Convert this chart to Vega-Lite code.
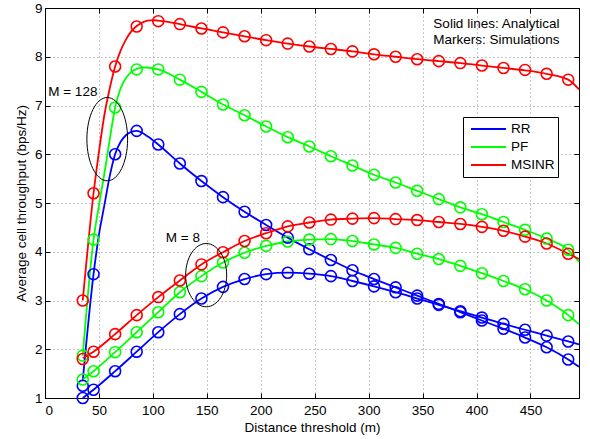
{
  "$schema": "https://vega.github.io/schema/vega-lite/v6.json",
  "width": 534,
  "height": 390,
  "autosize": {"type": "none"},
  "padding": {"left": 45, "top": 8, "right": 11, "bottom": 41},
  "background": "white",
  "config": {
    "font": "Liberation Sans",
    "view": {"stroke": "black", "strokeWidth": 1},
    "axis": {
      "labelFont": "Liberation Sans", "titleFont": "Liberation Sans",
      "labelFontSize": 13.5, "titleFontSize": 13.5, "titleFontWeight": "normal",
      "labelColor": "black", "titleColor": "black",
      "domainColor": "black", "tickColor": "black", "tickSize": -5,
      "gridColor": "#8a8a8a", "gridDash": [1, 3], "gridOpacity": 1, "gridWidth": 1
    }
  },
  "datasets": {
    "sim": [
      {"M":"128","scheme":"RR","distance":35,"throughput":1.25},{"M":"128","scheme":"RR","distance":45,"throughput":3.54},{"M":"128","scheme":"RR","distance":65,"throughput":6.0},{"M":"128","scheme":"RR","distance":85,"throughput":6.48},{"M":"128","scheme":"RR","distance":105,"throughput":6.2},{"M":"128","scheme":"RR","distance":125,"throughput":5.81},{"M":"128","scheme":"RR","distance":145,"throughput":5.45},{"M":"128","scheme":"RR","distance":165,"throughput":5.12},{"M":"128","scheme":"RR","distance":185,"throughput":4.82},{"M":"128","scheme":"RR","distance":205,"throughput":4.55},{"M":"128","scheme":"RR","distance":225,"throughput":4.29},{"M":"128","scheme":"RR","distance":245,"throughput":4.05},{"M":"128","scheme":"RR","distance":265,"throughput":3.83},{"M":"128","scheme":"RR","distance":285,"throughput":3.62},{"M":"128","scheme":"RR","distance":305,"throughput":3.44},{"M":"128","scheme":"RR","distance":325,"throughput":3.27},{"M":"128","scheme":"RR","distance":345,"throughput":3.1},{"M":"128","scheme":"RR","distance":365,"throughput":2.93},{"M":"128","scheme":"RR","distance":385,"throughput":2.76},{"M":"128","scheme":"RR","distance":405,"throughput":2.59},{"M":"128","scheme":"RR","distance":425,"throughput":2.42},{"M":"128","scheme":"RR","distance":445,"throughput":2.24},{"M":"128","scheme":"RR","distance":465,"throughput":2.04},{"M":"128","scheme":"RR","distance":485,"throughput":1.79},
      {"M":"128","scheme":"PF","distance":35,"throughput":1.87},{"M":"128","scheme":"PF","distance":45,"throughput":4.25},{"M":"128","scheme":"PF","distance":65,"throughput":6.96},{"M":"128","scheme":"PF","distance":85,"throughput":7.74},{"M":"128","scheme":"PF","distance":105,"throughput":7.74},{"M":"128","scheme":"PF","distance":125,"throughput":7.53},{"M":"128","scheme":"PF","distance":145,"throughput":7.28},{"M":"128","scheme":"PF","distance":165,"throughput":7.02},{"M":"128","scheme":"PF","distance":185,"throughput":6.8},{"M":"128","scheme":"PF","distance":205,"throughput":6.57},{"M":"128","scheme":"PF","distance":225,"throughput":6.35},{"M":"128","scheme":"PF","distance":245,"throughput":6.16},{"M":"128","scheme":"PF","distance":265,"throughput":5.96},{"M":"128","scheme":"PF","distance":285,"throughput":5.77},{"M":"128","scheme":"PF","distance":305,"throughput":5.58},{"M":"128","scheme":"PF","distance":325,"throughput":5.42},{"M":"128","scheme":"PF","distance":345,"throughput":5.25},{"M":"128","scheme":"PF","distance":365,"throughput":5.08},{"M":"128","scheme":"PF","distance":385,"throughput":4.91},{"M":"128","scheme":"PF","distance":405,"throughput":4.77},{"M":"128","scheme":"PF","distance":425,"throughput":4.61},{"M":"128","scheme":"PF","distance":445,"throughput":4.45},{"M":"128","scheme":"PF","distance":465,"throughput":4.27},{"M":"128","scheme":"PF","distance":485,"throughput":4.04},
      {"M":"128","scheme":"MSINR","distance":35,"throughput":3.0},{"M":"128","scheme":"MSINR","distance":45,"throughput":5.2},{"M":"128","scheme":"MSINR","distance":65,"throughput":7.8},{"M":"128","scheme":"MSINR","distance":85,"throughput":8.62},{"M":"128","scheme":"MSINR","distance":105,"throughput":8.73},{"M":"128","scheme":"MSINR","distance":125,"throughput":8.67},{"M":"128","scheme":"MSINR","distance":145,"throughput":8.58},{"M":"128","scheme":"MSINR","distance":165,"throughput":8.5},{"M":"128","scheme":"MSINR","distance":185,"throughput":8.42},{"M":"128","scheme":"MSINR","distance":205,"throughput":8.34},{"M":"128","scheme":"MSINR","distance":225,"throughput":8.27},{"M":"128","scheme":"MSINR","distance":245,"throughput":8.21},{"M":"128","scheme":"MSINR","distance":265,"throughput":8.16},{"M":"128","scheme":"MSINR","distance":285,"throughput":8.11},{"M":"128","scheme":"MSINR","distance":305,"throughput":8.05},{"M":"128","scheme":"MSINR","distance":325,"throughput":8.0},{"M":"128","scheme":"MSINR","distance":345,"throughput":7.95},{"M":"128","scheme":"MSINR","distance":365,"throughput":7.91},{"M":"128","scheme":"MSINR","distance":385,"throughput":7.87},{"M":"128","scheme":"MSINR","distance":405,"throughput":7.82},{"M":"128","scheme":"MSINR","distance":425,"throughput":7.77},{"M":"128","scheme":"MSINR","distance":445,"throughput":7.73},{"M":"128","scheme":"MSINR","distance":465,"throughput":7.65},{"M":"128","scheme":"MSINR","distance":485,"throughput":7.53},
      {"M":"8","scheme":"RR","distance":35,"throughput":1.0},{"M":"8","scheme":"RR","distance":45,"throughput":1.17},{"M":"8","scheme":"RR","distance":65,"throughput":1.55},{"M":"8","scheme":"RR","distance":85,"throughput":1.95},{"M":"8","scheme":"RR","distance":105,"throughput":2.35},{"M":"8","scheme":"RR","distance":125,"throughput":2.72},{"M":"8","scheme":"RR","distance":145,"throughput":3.04},{"M":"8","scheme":"RR","distance":165,"throughput":3.28},{"M":"8","scheme":"RR","distance":185,"throughput":3.44},{"M":"8","scheme":"RR","distance":205,"throughput":3.54},{"M":"8","scheme":"RR","distance":225,"throughput":3.57},{"M":"8","scheme":"RR","distance":245,"throughput":3.55},{"M":"8","scheme":"RR","distance":265,"throughput":3.5},{"M":"8","scheme":"RR","distance":285,"throughput":3.4},{"M":"8","scheme":"RR","distance":305,"throughput":3.29},{"M":"8","scheme":"RR","distance":325,"throughput":3.17},{"M":"8","scheme":"RR","distance":345,"throughput":3.04},{"M":"8","scheme":"RR","distance":365,"throughput":2.91},{"M":"8","scheme":"RR","distance":385,"throughput":2.78},{"M":"8","scheme":"RR","distance":405,"throughput":2.65},{"M":"8","scheme":"RR","distance":425,"throughput":2.52},{"M":"8","scheme":"RR","distance":445,"throughput":2.4},{"M":"8","scheme":"RR","distance":465,"throughput":2.28},{"M":"8","scheme":"RR","distance":485,"throughput":2.16},
      {"M":"8","scheme":"PF","distance":35,"throughput":1.38},{"M":"8","scheme":"PF","distance":45,"throughput":1.55},{"M":"8","scheme":"PF","distance":65,"throughput":1.94},{"M":"8","scheme":"PF","distance":85,"throughput":2.35},{"M":"8","scheme":"PF","distance":105,"throughput":2.76},{"M":"8","scheme":"PF","distance":125,"throughput":3.17},{"M":"8","scheme":"PF","distance":145,"throughput":3.5},{"M":"8","scheme":"PF","distance":165,"throughput":3.78},{"M":"8","scheme":"PF","distance":185,"throughput":3.98},{"M":"8","scheme":"PF","distance":205,"throughput":4.12},{"M":"8","scheme":"PF","distance":225,"throughput":4.21},{"M":"8","scheme":"PF","distance":245,"throughput":4.25},{"M":"8","scheme":"PF","distance":265,"throughput":4.26},{"M":"8","scheme":"PF","distance":285,"throughput":4.22},{"M":"8","scheme":"PF","distance":305,"throughput":4.15},{"M":"8","scheme":"PF","distance":325,"throughput":4.08},{"M":"8","scheme":"PF","distance":345,"throughput":3.96},{"M":"8","scheme":"PF","distance":365,"throughput":3.85},{"M":"8","scheme":"PF","distance":385,"throughput":3.71},{"M":"8","scheme":"PF","distance":405,"throughput":3.56},{"M":"8","scheme":"PF","distance":425,"throughput":3.4},{"M":"8","scheme":"PF","distance":445,"throughput":3.23},{"M":"8","scheme":"PF","distance":465,"throughput":3.0},{"M":"8","scheme":"PF","distance":485,"throughput":2.7},
      {"M":"8","scheme":"MSINR","distance":35,"throughput":1.8},{"M":"8","scheme":"MSINR","distance":45,"throughput":1.95},{"M":"8","scheme":"MSINR","distance":65,"throughput":2.31},{"M":"8","scheme":"MSINR","distance":85,"throughput":2.7},{"M":"8","scheme":"MSINR","distance":105,"throughput":3.07},{"M":"8","scheme":"MSINR","distance":125,"throughput":3.41},{"M":"8","scheme":"MSINR","distance":145,"throughput":3.74},{"M":"8","scheme":"MSINR","distance":165,"throughput":3.99},{"M":"8","scheme":"MSINR","distance":185,"throughput":4.22},{"M":"8","scheme":"MSINR","distance":205,"throughput":4.38},{"M":"8","scheme":"MSINR","distance":225,"throughput":4.52},{"M":"8","scheme":"MSINR","distance":245,"throughput":4.6},{"M":"8","scheme":"MSINR","distance":265,"throughput":4.66},{"M":"8","scheme":"MSINR","distance":285,"throughput":4.68},{"M":"8","scheme":"MSINR","distance":305,"throughput":4.69},{"M":"8","scheme":"MSINR","distance":325,"throughput":4.67},{"M":"8","scheme":"MSINR","distance":345,"throughput":4.65},{"M":"8","scheme":"MSINR","distance":365,"throughput":4.61},{"M":"8","scheme":"MSINR","distance":385,"throughput":4.57},{"M":"8","scheme":"MSINR","distance":405,"throughput":4.51},{"M":"8","scheme":"MSINR","distance":425,"throughput":4.43},{"M":"8","scheme":"MSINR","distance":445,"throughput":4.31},{"M":"8","scheme":"MSINR","distance":465,"throughput":4.17},{"M":"8","scheme":"MSINR","distance":485,"throughput":3.96}
    ],
    "ana": [
      {"M":"128","scheme":"RR","distance":35,"throughput":1.36},{"M":"128","scheme":"RR","distance":45,"throughput":3.54},{"M":"128","scheme":"RR","distance":50,"throughput":4.35},{"M":"128","scheme":"RR","distance":55,"throughput":4.95},{"M":"128","scheme":"RR","distance":60,"throughput":5.55},{"M":"128","scheme":"RR","distance":65,"throughput":6.0},{"M":"128","scheme":"RR","distance":70,"throughput":6.25},{"M":"128","scheme":"RR","distance":75,"throughput":6.39},{"M":"128","scheme":"RR","distance":80,"throughput":6.46},{"M":"128","scheme":"RR","distance":85,"throughput":6.48},{"M":"128","scheme":"RR","distance":95,"throughput":6.37},{"M":"128","scheme":"RR","distance":105,"throughput":6.2},{"M":"128","scheme":"RR","distance":125,"throughput":5.81},{"M":"128","scheme":"RR","distance":145,"throughput":5.45},{"M":"128","scheme":"RR","distance":165,"throughput":5.12},{"M":"128","scheme":"RR","distance":185,"throughput":4.82},{"M":"128","scheme":"RR","distance":205,"throughput":4.55},{"M":"128","scheme":"RR","distance":225,"throughput":4.29},{"M":"128","scheme":"RR","distance":245,"throughput":4.05},{"M":"128","scheme":"RR","distance":265,"throughput":3.83},{"M":"128","scheme":"RR","distance":285,"throughput":3.62},{"M":"128","scheme":"RR","distance":305,"throughput":3.44},{"M":"128","scheme":"RR","distance":325,"throughput":3.27},{"M":"128","scheme":"RR","distance":345,"throughput":3.1},{"M":"128","scheme":"RR","distance":365,"throughput":2.93},{"M":"128","scheme":"RR","distance":385,"throughput":2.76},{"M":"128","scheme":"RR","distance":405,"throughput":2.59},{"M":"128","scheme":"RR","distance":425,"throughput":2.42},{"M":"128","scheme":"RR","distance":445,"throughput":2.24},{"M":"128","scheme":"RR","distance":465,"throughput":2.04},{"M":"128","scheme":"RR","distance":485,"throughput":1.79},{"M":"128","scheme":"RR","distance":495,"throughput":1.64},
      {"M":"128","scheme":"PF","distance":35,"throughput":1.87},{"M":"128","scheme":"PF","distance":45,"throughput":4.25},{"M":"128","scheme":"PF","distance":50,"throughput":4.95},{"M":"128","scheme":"PF","distance":55,"throughput":5.6},{"M":"128","scheme":"PF","distance":60,"throughput":6.3},{"M":"128","scheme":"PF","distance":65,"throughput":6.96},{"M":"128","scheme":"PF","distance":70,"throughput":7.35},{"M":"128","scheme":"PF","distance":75,"throughput":7.56},{"M":"128","scheme":"PF","distance":80,"throughput":7.69},{"M":"128","scheme":"PF","distance":85,"throughput":7.75},{"M":"128","scheme":"PF","distance":90,"throughput":7.78},{"M":"128","scheme":"PF","distance":95,"throughput":7.78},{"M":"128","scheme":"PF","distance":100,"throughput":7.76},{"M":"128","scheme":"PF","distance":105,"throughput":7.74},{"M":"128","scheme":"PF","distance":125,"throughput":7.53},{"M":"128","scheme":"PF","distance":145,"throughput":7.28},{"M":"128","scheme":"PF","distance":165,"throughput":7.02},{"M":"128","scheme":"PF","distance":185,"throughput":6.8},{"M":"128","scheme":"PF","distance":205,"throughput":6.57},{"M":"128","scheme":"PF","distance":225,"throughput":6.35},{"M":"128","scheme":"PF","distance":245,"throughput":6.16},{"M":"128","scheme":"PF","distance":265,"throughput":5.96},{"M":"128","scheme":"PF","distance":285,"throughput":5.77},{"M":"128","scheme":"PF","distance":305,"throughput":5.58},{"M":"128","scheme":"PF","distance":325,"throughput":5.42},{"M":"128","scheme":"PF","distance":345,"throughput":5.25},{"M":"128","scheme":"PF","distance":365,"throughput":5.08},{"M":"128","scheme":"PF","distance":385,"throughput":4.91},{"M":"128","scheme":"PF","distance":405,"throughput":4.77},{"M":"128","scheme":"PF","distance":425,"throughput":4.61},{"M":"128","scheme":"PF","distance":445,"throughput":4.45},{"M":"128","scheme":"PF","distance":465,"throughput":4.27},{"M":"128","scheme":"PF","distance":485,"throughput":4.04},{"M":"128","scheme":"PF","distance":495,"throughput":3.79},
      {"M":"128","scheme":"MSINR","distance":35,"throughput":3.0},{"M":"128","scheme":"MSINR","distance":45,"throughput":5.2},{"M":"128","scheme":"MSINR","distance":50,"throughput":6.05},{"M":"128","scheme":"MSINR","distance":55,"throughput":6.8},{"M":"128","scheme":"MSINR","distance":60,"throughput":7.35},{"M":"128","scheme":"MSINR","distance":65,"throughput":7.8},{"M":"128","scheme":"MSINR","distance":70,"throughput":8.12},{"M":"128","scheme":"MSINR","distance":75,"throughput":8.35},{"M":"128","scheme":"MSINR","distance":80,"throughput":8.52},{"M":"128","scheme":"MSINR","distance":85,"throughput":8.63},{"M":"128","scheme":"MSINR","distance":90,"throughput":8.7},{"M":"128","scheme":"MSINR","distance":95,"throughput":8.74},{"M":"128","scheme":"MSINR","distance":100,"throughput":8.75},{"M":"128","scheme":"MSINR","distance":105,"throughput":8.74},{"M":"128","scheme":"MSINR","distance":125,"throughput":8.67},{"M":"128","scheme":"MSINR","distance":145,"throughput":8.58},{"M":"128","scheme":"MSINR","distance":165,"throughput":8.5},{"M":"128","scheme":"MSINR","distance":185,"throughput":8.42},{"M":"128","scheme":"MSINR","distance":205,"throughput":8.34},{"M":"128","scheme":"MSINR","distance":225,"throughput":8.27},{"M":"128","scheme":"MSINR","distance":245,"throughput":8.21},{"M":"128","scheme":"MSINR","distance":265,"throughput":8.16},{"M":"128","scheme":"MSINR","distance":285,"throughput":8.11},{"M":"128","scheme":"MSINR","distance":305,"throughput":8.05},{"M":"128","scheme":"MSINR","distance":325,"throughput":8.0},{"M":"128","scheme":"MSINR","distance":345,"throughput":7.95},{"M":"128","scheme":"MSINR","distance":365,"throughput":7.91},{"M":"128","scheme":"MSINR","distance":385,"throughput":7.87},{"M":"128","scheme":"MSINR","distance":405,"throughput":7.82},{"M":"128","scheme":"MSINR","distance":425,"throughput":7.77},{"M":"128","scheme":"MSINR","distance":445,"throughput":7.72},{"M":"128","scheme":"MSINR","distance":465,"throughput":7.65},{"M":"128","scheme":"MSINR","distance":485,"throughput":7.53},{"M":"128","scheme":"MSINR","distance":495,"throughput":7.33},
      {"M":"8","scheme":"RR","distance":35,"throughput":1.0},{"M":"8","scheme":"RR","distance":45,"throughput":1.17},{"M":"8","scheme":"RR","distance":65,"throughput":1.55},{"M":"8","scheme":"RR","distance":85,"throughput":1.95},{"M":"8","scheme":"RR","distance":105,"throughput":2.35},{"M":"8","scheme":"RR","distance":125,"throughput":2.72},{"M":"8","scheme":"RR","distance":145,"throughput":3.04},{"M":"8","scheme":"RR","distance":165,"throughput":3.28},{"M":"8","scheme":"RR","distance":185,"throughput":3.44},{"M":"8","scheme":"RR","distance":205,"throughput":3.54},{"M":"8","scheme":"RR","distance":225,"throughput":3.57},{"M":"8","scheme":"RR","distance":245,"throughput":3.55},{"M":"8","scheme":"RR","distance":265,"throughput":3.5},{"M":"8","scheme":"RR","distance":285,"throughput":3.4},{"M":"8","scheme":"RR","distance":305,"throughput":3.29},{"M":"8","scheme":"RR","distance":325,"throughput":3.17},{"M":"8","scheme":"RR","distance":345,"throughput":3.04},{"M":"8","scheme":"RR","distance":365,"throughput":2.91},{"M":"8","scheme":"RR","distance":385,"throughput":2.78},{"M":"8","scheme":"RR","distance":405,"throughput":2.65},{"M":"8","scheme":"RR","distance":425,"throughput":2.52},{"M":"8","scheme":"RR","distance":445,"throughput":2.4},{"M":"8","scheme":"RR","distance":465,"throughput":2.28},{"M":"8","scheme":"RR","distance":485,"throughput":2.16},{"M":"8","scheme":"RR","distance":495,"throughput":2.1},
      {"M":"8","scheme":"PF","distance":35,"throughput":1.38},{"M":"8","scheme":"PF","distance":45,"throughput":1.55},{"M":"8","scheme":"PF","distance":65,"throughput":1.94},{"M":"8","scheme":"PF","distance":85,"throughput":2.35},{"M":"8","scheme":"PF","distance":105,"throughput":2.76},{"M":"8","scheme":"PF","distance":125,"throughput":3.17},{"M":"8","scheme":"PF","distance":145,"throughput":3.5},{"M":"8","scheme":"PF","distance":165,"throughput":3.78},{"M":"8","scheme":"PF","distance":185,"throughput":3.98},{"M":"8","scheme":"PF","distance":205,"throughput":4.12},{"M":"8","scheme":"PF","distance":225,"throughput":4.21},{"M":"8","scheme":"PF","distance":245,"throughput":4.25},{"M":"8","scheme":"PF","distance":265,"throughput":4.26},{"M":"8","scheme":"PF","distance":285,"throughput":4.22},{"M":"8","scheme":"PF","distance":305,"throughput":4.15},{"M":"8","scheme":"PF","distance":325,"throughput":4.08},{"M":"8","scheme":"PF","distance":345,"throughput":3.96},{"M":"8","scheme":"PF","distance":365,"throughput":3.85},{"M":"8","scheme":"PF","distance":385,"throughput":3.71},{"M":"8","scheme":"PF","distance":405,"throughput":3.56},{"M":"8","scheme":"PF","distance":425,"throughput":3.4},{"M":"8","scheme":"PF","distance":445,"throughput":3.23},{"M":"8","scheme":"PF","distance":465,"throughput":3.0},{"M":"8","scheme":"PF","distance":485,"throughput":2.7},{"M":"8","scheme":"PF","distance":495,"throughput":2.51},
      {"M":"8","scheme":"MSINR","distance":35,"throughput":1.82},{"M":"8","scheme":"MSINR","distance":45,"throughput":1.95},{"M":"8","scheme":"MSINR","distance":65,"throughput":2.31},{"M":"8","scheme":"MSINR","distance":85,"throughput":2.7},{"M":"8","scheme":"MSINR","distance":105,"throughput":3.07},{"M":"8","scheme":"MSINR","distance":125,"throughput":3.41},{"M":"8","scheme":"MSINR","distance":145,"throughput":3.74},{"M":"8","scheme":"MSINR","distance":165,"throughput":3.99},{"M":"8","scheme":"MSINR","distance":185,"throughput":4.22},{"M":"8","scheme":"MSINR","distance":205,"throughput":4.38},{"M":"8","scheme":"MSINR","distance":225,"throughput":4.52},{"M":"8","scheme":"MSINR","distance":245,"throughput":4.6},{"M":"8","scheme":"MSINR","distance":265,"throughput":4.66},{"M":"8","scheme":"MSINR","distance":285,"throughput":4.68},{"M":"8","scheme":"MSINR","distance":305,"throughput":4.69},{"M":"8","scheme":"MSINR","distance":325,"throughput":4.67},{"M":"8","scheme":"MSINR","distance":345,"throughput":4.65},{"M":"8","scheme":"MSINR","distance":365,"throughput":4.61},{"M":"8","scheme":"MSINR","distance":385,"throughput":4.57},{"M":"8","scheme":"MSINR","distance":405,"throughput":4.51},{"M":"8","scheme":"MSINR","distance":425,"throughput":4.43},{"M":"8","scheme":"MSINR","distance":445,"throughput":4.31},{"M":"8","scheme":"MSINR","distance":465,"throughput":4.17},{"M":"8","scheme":"MSINR","distance":485,"throughput":3.96},{"M":"8","scheme":"MSINR","distance":495,"throughput":3.85}
    ],
    "ell128": [{"distance": 57.7, "throughput": 6.31}],
    "ell8": [{"distance": 149.4, "throughput": 3.52}],
    "notes": [
      {"distance": 3, "throughput": 7.28, "label": "M = 128"},
      {"distance": 112, "throughput": 4.28, "label": "M = 8"},
      {"distance": 360, "throughput": 8.67, "label": "Solid lines: Analytical"},
      {"distance": 360, "throughput": 8.34, "label": "Markers: Simulations"}
    ]
  },
  "resolve": {"axis": {"x": "independent", "y": "independent"}},
  "layer": [
    {
      "data": {"name": "ana"},
      "mark": {"type": "line", "strokeWidth": 1.8, "interpolate": "monotone"},
      "encoding": {
        "x": {"field": "distance", "type": "quantitative",
              "scale": {"domain": [0, 495], "nice": false, "zero": false},
              "axis": {"orient": "bottom", "title": "Distance threshold (m)", "values": [0,50,100,150,200,250,300,350,400,450],
                       "grid": true, "labelPadding": 10, "titlePadding": 4}},
        "y": {"field": "throughput", "type": "quantitative",
              "scale": {"domain": [1, 9], "nice": false, "zero": false},
              "axis": {"orient": "left", "title": "Average cell throughput (bps/Hz)", "values": [1,2,3,4,5,6,7,8,9],
                       "grid": true, "labelPadding": 8, "titlePadding": 6}},
        "color": {"field": "scheme", "type": "nominal",
                  "scale": {"domain": ["RR", "PF", "MSINR"], "range": ["#0000ff", "#00ff00", "#ff0000"]},
                  "legend": {"title": null, "orient": "none", "legendX": 418, "legendY": 109,
                             "symbolType": "stroke", "symbolSize": 1225, "symbolStrokeWidth": 2,
                             "clipHeight": 18, "rowPadding": 0, "labelFontSize": 13.5, "labelFont": "Liberation Sans",
                             "labelColor": "black", "strokeColor": "black", "fillColor": "white",
                             "padding": 3, "symbolOffset": 4, "labelOffset": 4}},
        "detail": {"field": "M", "type": "nominal"}
      }
    },
    {
      "data": {"name": "sim"},
      "mark": {"type": "point", "shape": "circle", "filled": false, "size": 120, "strokeWidth": 1.6, "opacity": 1},
      "encoding": {
        "x": {"field": "distance", "type": "quantitative", "scale": {"domain": [0, 495], "nice": false, "zero": false}, "axis": null},
        "y": {"field": "throughput", "type": "quantitative", "scale": {"domain": [1, 9], "nice": false, "zero": false}, "axis": null},
        "color": {"field": "scheme", "type": "nominal", "scale": {"domain": ["RR", "PF", "MSINR"], "range": ["#0000ff", "#00ff00", "#ff0000"]}, "legend": null},
        "detail": {"field": "M", "type": "nominal"}
      }
    },
    {
      "data": {"name": "ell128"},
      "mark": {"type": "point", "shape": "M -0.489 0 A 0.489 1 0 1 1 0.489 0 A 0.489 1 0 1 1 -0.489 0 Z", "size": 6939, "filled": false, "stroke": "black", "strokeWidth": 1, "opacity": 1},
      "encoding": {
        "x": {"field": "distance", "type": "quantitative", "scale": {"domain": [0, 495], "nice": false, "zero": false},
              "axis": {"orient": "top", "labels": false, "title": null, "grid": false, "values": [0,50,100,150,200,250,300,350,400,450]}},
        "y": {"field": "throughput", "type": "quantitative", "scale": {"domain": [1, 9], "nice": false, "zero": false},
              "axis": {"orient": "right", "labels": false, "title": null, "grid": false, "values": [1,2,3,4,5,6,7,8,9]}}
      }
    },
    {
      "data": {"name": "ell8"},
      "mark": {"type": "point", "shape": "M -0.648 0 A 0.648 1 0 1 1 0.648 0 A 0.648 1 0 1 1 -0.648 0 Z", "size": 4007, "filled": false, "stroke": "black", "strokeWidth": 1, "opacity": 1},
      "encoding": {
        "x": {"field": "distance", "type": "quantitative", "scale": {"domain": [0, 495], "nice": false, "zero": false}, "axis": null},
        "y": {"field": "throughput", "type": "quantitative", "scale": {"domain": [1, 9], "nice": false, "zero": false}, "axis": null}
      }
    },
    {
      "data": {"name": "notes"},
      "mark": {"type": "text", "align": "left", "baseline": "middle", "fontSize": 13.5, "font": "Liberation Sans", "color": "black"},
      "encoding": {
        "x": {"field": "distance", "type": "quantitative", "scale": {"domain": [0, 495], "nice": false, "zero": false}, "axis": null},
        "y": {"field": "throughput", "type": "quantitative", "scale": {"domain": [1, 9], "nice": false, "zero": false}, "axis": null},
        "text": {"field": "label", "type": "nominal"}
      }
    }
  ]
}
